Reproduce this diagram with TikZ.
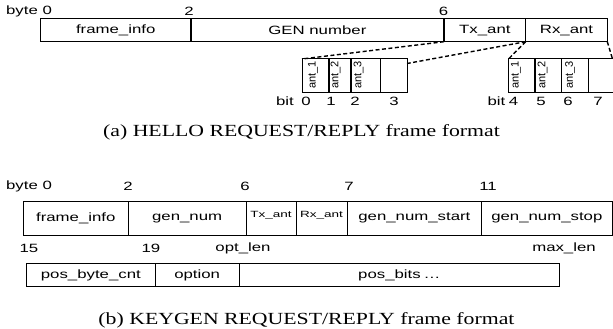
\documentclass[tikz,border=0pt]{standalone}
\usepackage{fontspec}
\usepackage{graphicx}
\setmainfont{Liberation Serif}
\newfontfamily\arialf{Liberation Sans}
\newcommand\wtxt[1]{\scalebox{1.4}[1]{#1}}
\newcommand\wsmall[1]{\scalebox{1.5}[1]{#1}}
\newcommand\wcap[1]{\scalebox{1.28}[1]{#1}}
\tikzset{
  cell/.style={draw, line width=1pt, inner sep=0pt, outer sep=0pt, anchor=north west,
    font=\arialf\fontsize{12}{14}\selectfont},
  lbl/.style={inner sep=0pt, outer sep=0pt, font=\arialf\fontsize{12}{14}\selectfont},
  rot/.style={inner sep=0pt, outer sep=0pt, rotate=90, font=\arialf\fontsize{11}{13}\selectfont},
  smallt/.style={font=\arialf\fontsize{9}{11}\selectfont},
  captext/.style={inner sep=0pt, outer sep=0pt, anchor=base, font=\fontsize{17}{19}\selectfont},
  thickdiv/.style={line width=2.2pt},
  dashconn/.style={line width=1.4pt, dash pattern=on 4pt off 2.5pt},
}
\begin{document}
\begin{tikzpicture}[x=1pt,y=-1pt]
\useasboundingbox[fill=white] (0,0) rectangle (613,329);
% ---------- (a) ----------
\node[lbl] (ab0) at (29,11) {\wtxt{byte 0}};
\node[lbl] (ab2) at (189,11) {\wtxt{2}};
\node[lbl] (ab6) at (443.5,11) {\wtxt{6}};
\node[cell, minimum width=150pt, minimum height=22.7pt] (afi) at (40.7,19) {\wtxt{frame\_info}};
\node[cell, minimum width=253.3pt, minimum height=22.7pt] (agen) at (190.7,19) {\wtxt{GEN number}};
\node[cell, minimum width=81.7pt, minimum height=22.7pt] (atx) at (444,19) {\wtxt{Tx\_ant}};
\node[cell, minimum width=81.6pt, minimum height=22.7pt] (arx) at (525.7,19) {\wtxt{Rx\_ant}};
\draw[thickdiv] (afi.north east) -- (afi.south east);
\draw[thickdiv] (agen.north east) -- (agen.south east);
% left bit group
\node[cell, minimum width=27pt, minimum height=33pt] (l1) at (302,59) {};
\node[cell, minimum width=22pt, minimum height=33pt] (l2) at (329,59) {};
\node[cell, minimum width=29pt, minimum height=33pt] (l3) at (351,59) {};
\node[cell, minimum width=27pt, minimum height=33pt] (l4) at (380,59) {};
\draw[thickdiv] (l1.north east) -- (l1.south east);
\draw[thickdiv] (l2.north east) -- (l2.south east);
\node[rot] (tl1) at (313,75) {ant\_1};
\node[rot] (tl2) at (335.5,75) {ant\_2};
\node[rot] (tl3) at (358.5,75) {ant\_3};
% right bit group
\node[cell, minimum width=26.8pt, minimum height=33pt] (r1) at (508.5,59) {};
\node[cell, minimum width=26.4pt, minimum height=33pt] (r2) at (535.3,59) {};
\node[cell, minimum width=26.6pt, minimum height=33pt] (r3) at (561.7,59) {};
\node[cell, minimum width=27pt, minimum height=33pt] (r4) at (588.3,59) {};
\draw[thickdiv] (r1.north east) -- (r1.south east);
\node[rot] (tr1) at (516,75) {ant\_1};
\node[rot] (tr2) at (542.5,75) {ant\_2};
\node[rot] (tr3) at (570,75) {ant\_3};
% dashed connectors
\coordinate (l4e) at (407,63.5);
\coordinate (r4e) at (612.5,59);
\draw[dashconn] (atx.south west) -- (l1.north west);
\draw[dashconn] (atx.south east) -- (l4e);
\draw[dashconn] (arx.south west) -- (r1.north west);
\draw[dashconn] (arx.south east) -- (r4e);
% bit labels
\node[lbl] (bitl) at (285,101.5) {\wtxt{bit}};
\node[lbl] (bl0) at (306,101.5) {\wtxt{0}};
\node[lbl] (bl1) at (331,101.5) {\wtxt{1}};
\node[lbl] (bl2) at (355,101.5) {\wtxt{2}};
\node[lbl] (bl3) at (394,101.5) {\wtxt{3}};
\node[lbl] (bitr) at (496.5,101.5) {\wtxt{bit}};
\node[lbl] (br4) at (513.5,101.5) {\wtxt{4}};
\node[lbl] (br5) at (541,101.5) {\wtxt{5}};
\node[lbl] (br6) at (568,101.5) {\wtxt{6}};
\node[lbl] (br7) at (598,101.5) {\wtxt{7}};
\node[captext] (capa) at (301.5,136.5) {\wcap{(a) HELLO REQUEST/REPLY frame format}};
% ---------- (b) ----------
\node[lbl] (bb0) at (29,186.5) {\wtxt{byte 0}};
\node[lbl] (bb2) at (128,186.5) {\wtxt{2}};
\node[lbl] (bb6) at (245,186.5) {\wtxt{6}};
\node[lbl] (bb7) at (349,186.5) {\wtxt{7}};
\node[lbl] (bb11) at (488,186.5) {\wtxt{11}};
\node[cell, minimum width=105pt, minimum height=33.3pt] (bfi) at (23.3,201.7) {\wtxt{frame\_info}};
\node[cell, minimum width=117.7pt, minimum height=33.3pt] (bgen) at (128.3,201.7) {\wtxt{gen\_num}};
\node[cell, smallt, minimum width=50pt, minimum height=33.3pt] (btx) at (246,201.7) {\raisebox{8pt}{\wsmall{Tx\_ant}}};
\node[cell, smallt, minimum width=51pt, minimum height=33.3pt] (brx) at (296,201.7) {\raisebox{8pt}{\wsmall{Rx\_ant}}};
\node[cell, minimum width=134.7pt, minimum height=33.3pt] (bst) at (347,201.7) {\wtxt{gen\_num\_start}};
\node[cell, minimum width=130.3pt, minimum height=33.3pt] (bsp) at (481.7,201.7) {\wtxt{gen\_num\_stop}};
\node[lbl] (b15) at (29,248) {\wtxt{15}};
\node[lbl] (b19) at (151,248) {\wtxt{19}};
\node[lbl] (bopt) at (243,248) {\wtxt{opt\_len}};
\node[lbl] (bmax) at (564,248) {\wtxt{max\_len}};
\node[cell, minimum width=128.3pt, minimum height=23.4pt] (bpbc) at (26.7,263.3) {\wtxt{pos\_byte\_cnt}};
\node[cell, minimum width=84.3pt, minimum height=23.4pt] (bopn) at (155,263.3) {\wtxt{option}};
\node[cell, minimum width=320pt, minimum height=23.4pt] (bpb) at (239.3,263.3) {\wtxt{pos\_bits\,\ldots}};
\node[captext] (capb) at (306.5,324.5) {\wcap{(b) KEYGEN REQUEST/REPLY frame format}};
\end{tikzpicture}
\end{document}
